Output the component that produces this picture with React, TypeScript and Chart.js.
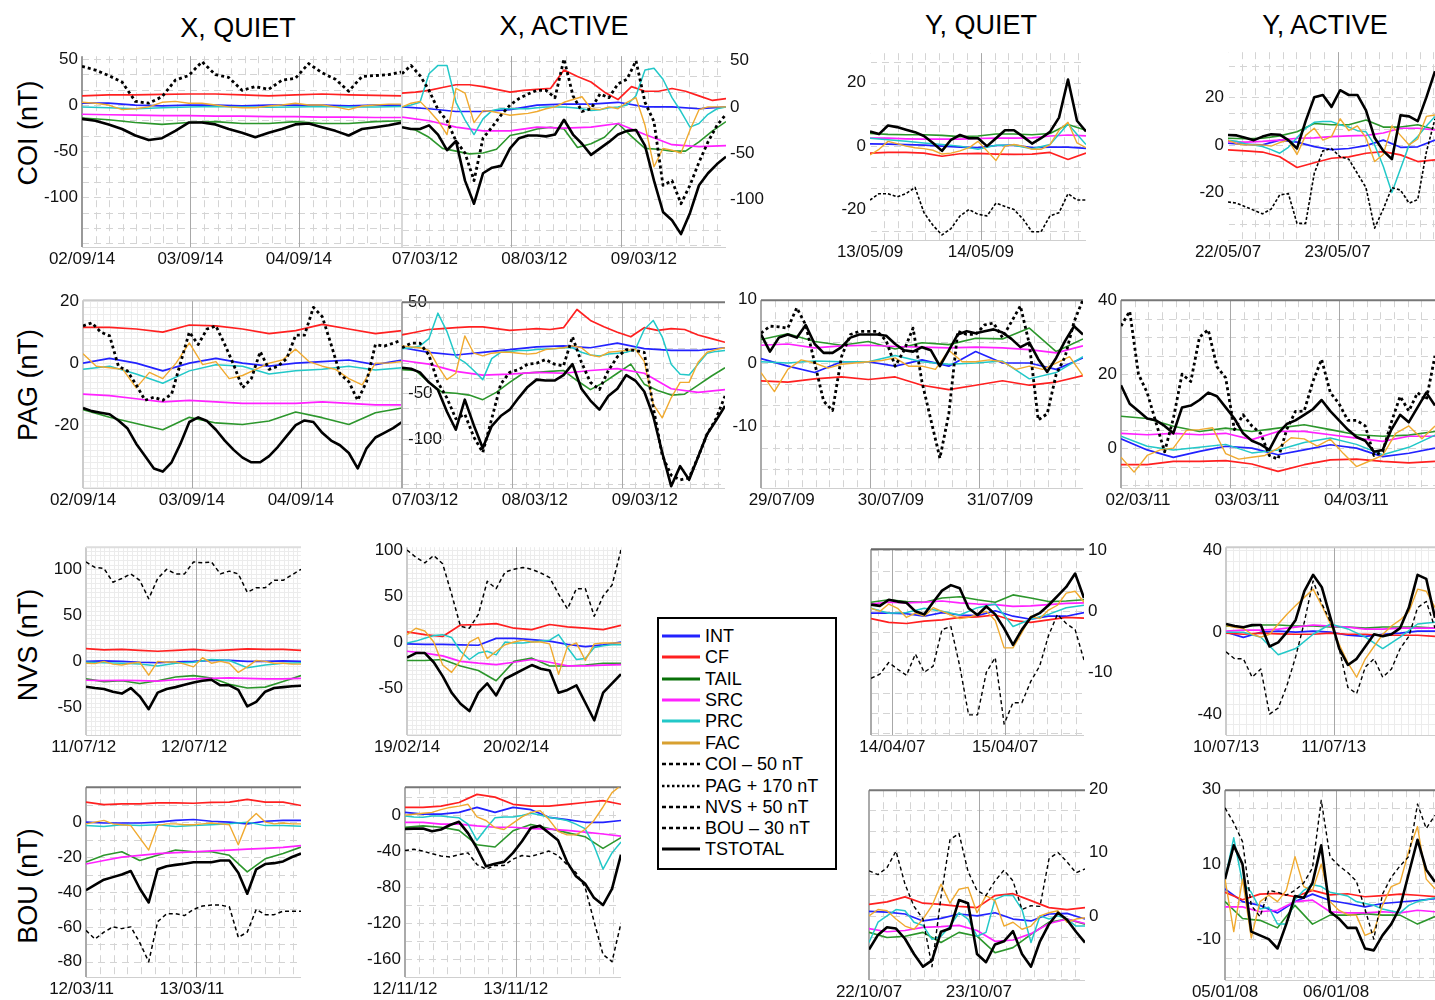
import React, { useEffect, useRef } from "react";
import { Chart, registerables } from "chart.js";
Chart.register(...registerables);

const FONT = '"Liberation Sans", Arial, Helvetica, sans-serif';
const C = { int: "#2222ff", cf: "#ff2020", tail: "#2c962c", src: "#ff22ff", prc: "#22c8c8", fac: "#f0aa30" };

// ---------- P1 COI X quiet ----------
const p1_obs = [42, 38, 32, 25, 4, 2, 9, 27, 32, 47, 33, 30, 16, 20, 17, 27, 29, 45, 35, 28, 15, 31, 32, 33, 36];
const p1_tot = [-15, -17, -21, -26, -33, -38, -36, -28, -19, -19, -21, -26, -30, -35, -30, -26, -21, -20, -24, -28, -33, -26, -24, -22, -19];
const p1_tail = [-14, -16, -19, -21, -19, -18, -20, -20, -18, -20, -20, -18, -17];
const p1_src = [-10, -10.5, -11, -11.5, -11.5, -12, -12, -12.5, -12.5, -13, -13, -13.5, -13.5];
const p1_cf = [10, 11, 11, 11.5, 12, 12, 11, 10, 11, 12, 11, 10.5, 10];
const p1_int = [2, 2, 0, -1, 0, 0, -1, 0, 0, 0, -1, 0, 0];
const p1_prc = [-2, -3, -4, -3, -2, -1.5, -2, -2.5, -2, -1.5, -2, -2, -1.5];
const p1_fac = [3, 2, 0, -5, -4, -2, 3, 4, 2, 2, 0, -2, -3, -3, -1, 0, 2, 0, 0, -2, -5, -1, 0, 1, 1];
const p1_days = ["02/09/14", "03/09/14", "04/09/14"];

// ---------- P2 COI X active ----------
const p2_obs = [36, 45, 34, 18, -3, -15, -37, -50, -80, -34, -22, -9, 2, 9, 14, 18, 18, 10, 52, 12, -5, -2, 14, 10, 25, 30, 50, 5, -16, -85, -80, -105, -85, -60, -38, -20, -8];
const p2_tot = [-22, -24, -24, -20, -30, -47, -37, -80, -105, -72, -66, -64, -45, -34, -31, -31, -32, -30, -14, -30, -40, -52, -45, -38, -30, -26, -25, -42, -80, -114, -123, -138, -115, -85, -72, -62, -54];
const p2_cf = [15, 16, 18, 21, 24, 24, 22, 19, 16, 18, 19, 20, 40, 33, 27, 16, 8, 22, 17, 17, 20, 17, 12, 7, 9];
const p2_int = [0, -2, -5, -5, -3, 2, 3, 3, 5, 0, 0, -2, 0];
const p2_tail = [-22, -25, -33, -45, -48, -51, -50, -46, -31, -28, -24, -22, -24, -44, -40, -33, -18, -32, -45, -46, -48, -48, -38, -26, -16];
const p2_src = [-11, -15, -22, -26, -26, -22, -23, -22, -18, -30, -41, -43, -42];
const p2_prc = [0, 2, 5, 36, 45, 45, 5, -14, -30, -13, -4, -2, -2, -2, -2, -1, 0, 0, 0, -1, -2, -4, -3, -1, 0, 2, 12, 40, 42, 30, 10, -5, -22, -18, -8, -2, 0];
const p2_fac = [0, 4, 6, -4, -15, -30, 20, 15, -17, -4, -5, -7, -9, -8, -7, -5, -2, 0, 5, 8, 11, -2, -3, 0, -2, 5, 10, -20, -65, -45, -47, -50, -25, -3, 0, 0, 0];
const p2_days = ["07/03/12", "08/03/12", "09/03/12"];

// ---------- P3 COI Y quiet ----------
const p3_obs = [-17, -15, -15, -16, -15, -13, -21, -25, -28, -26, -22, -20, -21.5, -22, -18, -19, -20, -23, -27, -27, -22, -21, -15, -17, -17];
const p3_tot = [4.6, 3.8, 6.5, 6, 5.2, 4.4, 3.2, 1, -1.5, 2, 3.5, 2.5, 2.5, 0, 2.5, 5, 5, 3, 0.8, 2.5, 4.5, 9, 21, 8, 4.6];
const p3_tail = [4, 3.7, 3.6, 3.6, 3.4, 3.0, 3.2, 3.8, 3.8, 3.6, 4, 6.8, 5];
const p3_src = [2.5, 2.5, 2.3, 2.2, 2.2, 2.2, 2.4, 2.5, 2.5, 2.6, 3.2, 3.5, 3.2];
const p3_prc = [2.5, 2, 1.5, 1, 0.5, 0, -1, 0.3, 0.3, -0.8, 0.5, 7, 0.5];
const p3_int = [0.7, 0.6, 0.5, 0.3, 0, -0.3, -0.5, 0.2, 0.3, -0.5, -0.3, -0.3, -0.7];
const p3_cf = [-2.2, -2, -2, -2.2, -3.2, -2.4, -2.3, -2.5, -2.6, -2.5, -2, -4.2, -2.2];
const p3_fac = [-2.8, -1, 1.5, 0.8, 0, -0.5, -0.8, -1.3, -2.5, -2.2, -1.5, -0.5, 1.5, -1.5, -4.5, 0, 0.5, 0, -1, -1, 0.5, 5, 7.5, 1, -0.5];
const p3_days = ["13/05/09", "14/05/09"];

// ---------- P4 COI Y active ----------
const p4_obs = [-24, -24.5, -26, -27.5, -29, -27, -21, -20.5, -33, -33, -12, -2.5, -1.5, -5, -6, -12, -18, -35, -27, -18, -19, -24.5, -23, -3, 11];
const p4_tot = [4.2, 4, 3, 2, 3.5, 4.5, 4.3, 2, -1.5, 10, 20, 21, 16, 23, 21, 21, 14.5, 3, -2.5, -6, 12.5, 12, 10, 20, 31];
const p4_tail = [2.8, 2.6, 2.8, 3.8, 5.5, 9, 8.5, 8.5, 10.5, 7.5, 7.5, 8.5, 6.5];
const p4_src = [1.4, 1.2, 1.5, 2, 2.8, 3, 3.5, 3.8, 4, 5, 7, 7, 6.3];
const p4_prc = [2, 1.5, 0.5, 0, -0.7, -2, -3.5, -1, 3, 7, 9.5, 9.8, 9.8, 8.5, 7.5, 6, 5.5, 0, -9, -20, -10, 0, 3.5, 8, 12];
const p4_int = [0.7, 0.2, 0, 2, 1.2, -0.7, -2, -1.5, -0.3, 2, -1, -0.8, 2];
const p4_cf = [-2.1, -2.5, -3, -5, -9.5, -7.5, -5.6, -5, -3.5, -2.8, -4.2, -7, -6.3];
const p4_fac = [2, 0.5, 0, 0, 0, -0.5, 1, 2, -4, 4, 7, 2, 3.5, 11, 6, 8, 3, -7, -4, 8, 4, 0, 2.5, 12, 12.6];
const p4_days = ["22/05/07", "23/05/07"];

// ---------- P5 PAG X quiet ----------
const p5_obs = [12, 13, 10, 8.8, -1, -2.5, -7, -12, -11, -12, -10, 0, 10, 6, 11, 12, 6, -0.5, -8, -5, 3.7, -2, -1, 1.5, 9, 9, 18, 15, 6, -3.5, -6, -12, -6, 6, 5.5, 6.4, 7.5];
const p5_tot = [-14.5, -15.5, -16, -16.5, -18.5, -21, -26, -30, -34, -35, -32, -26, -19, -17.5, -18.7, -21.5, -25, -28, -30.5, -32, -32, -30, -27, -23.5, -20, -18.5, -19, -22.5, -25, -26.5, -29, -34, -27.5, -24, -22.5, -21, -19];
const p5_tail = [-15, -17.5, -19.5, -21.5, -17.5, -19.3, -19.8, -18.7, -15.8, -17.6, -19.8, -16, -14.5];
const p5_src = [-10, -10.5, -11.5, -12.5, -12, -12.5, -13, -13, -13, -12.5, -13, -13.5, -13.5];
const p5_cf = [11.5, 11.5, 11, 10, 12.3, 12, 11, 9.5, 10.5, 12.5, 11, 9.5, 10.5];
const p5_int = [0, 1.5, 0, -2.5, 0, 1.5, 0, -1, 0, 0.5, 1, -0.5, 1];
const p5_prc = [-2, -1, -3.5, -6.5, -2.5, -0.5, -1, -3.5, -2.5, -2, -1, -2.2, -1.5];
const p5_fac = [3, -1, -1.5, -2, -8, -3, -5, 0, 6.5, -0.5, 0.5, -5, -4, -2, 0, 1, 4.5, 0.5, -1, -2, -5, -7, 0, 0, 0.5];
const p5_days = ["02/09/14", "03/09/14", "04/09/14"];

// ---------- P6 PAG X active ----------
const p6_obs = [0, 5, 5, -8, -38, -55, -78, -73, -98, -115, -78, -40, -27, -24, -18, -17, -13, -18, -20, 12, -16, -38, -46, -25, -10, -2, -3, -5, -65, -118, -140, -145, -143, -120, -95, -78, -53];
const p6_tot = [-22, -23, -27, -38, -46, -70, -90, -57, -85, -110, -86, -75, -68, -55, -43, -35, -36, -36, -30, -18, -45, -58, -68, -53, -45, -30, -36, -48, -75, -115, -152, -130, -145, -120, -95, -80, -64];
const p6_cf = [14, 17, 20, 21, 22, 23, 23, 21, 19, 20, 21, 20, 22, 42, 30, 23, 17, 12, 22, 19, 21, 20, 14, 10, 6];
const p6_int = [0, -5, -8, -5, -2, 1, 2, 0, 5, -1, -3, -3, 0];
const p6_tail = [-24, -25, -38, -49, -50, -52, -57, -49, -38, -28, -27, -26, -25, -36, -46, -38, -28, -18, -40, -47, -52, -51, -41, -31, -22];
const p6_src = [-14, -18, -26, -30, -29, -27, -28, -25, -23, -28, -45, -49, -46];
const p6_prc = [-1, 0, 2, 10, 38, 18, -10, -16, -25, -35, -12, -5, -4, -3, -3, -2, -1.5, -1, 0, 0, -5, -8, -9, -7, -6, -5, -2, 20, 30, 12, -18, -29, -30, -18, -6, -4, -3];
const p6_fac = [2, 1, 0, -3, -20, -35, -28, 13, -6, -9, -6, -5, -5, -6, -7, -6, -2, -1, 0, 2, 0, -8, -10, -5, -4, -3, -1.5, -15, -62, -77, -55, -38, -38, -16, -5, -2, 0];
const p6_days = ["07/03/12", "08/03/12", "09/03/12"];

// ---------- P7 PAG Y quiet ----------
const p7_obs = [4.7, 5.8, 5.7, 5.5, 8.7, 6, 0, -6, -7.5, 1, 4.5, 5, 5, 5, 3.5, -0.5, 2, 5.5, -3, -9, -15, -8, 5, 4.5, 4.5, 6, 6.3, 4, 6.5, 9, 3, -9, -8, -1.8, 1, 6.5, 10];
const p7_tot = [4.5, 1.8, 4, 4.5, 4, 6, 3, 1.6, 1.6, 2.5, 4, 4.5, 4.5, 4.5, 4.3, 3, 2, 1.8, 2.5, 2, -0.5, 2, 4.5, 5, 4.7, 5, 5.3, 4.8, 3.8, 2.5, 3.2, 0.6, -1.4, 0.8, 3.5, 5.8, 4.5];
const p7_tail = [3.7, 4.6, 3.4, 2.8, 3.4, 2.2, 3.2, 2.9, 3.9, 3.8, 5.5, 1.8, 3.8];
const p7_src = [2.8, 3, 2.4, 2.7, 2.8, 2.6, 2.5, 2.4, 2.5, 2.4, 2.1, 1.6, 2.7];
const p7_cf = [-2.8, -3, -2.5, -2.2, -2.6, -2.2, -3.5, -4.2, -3.5, -2.8, -3.5, -3, -2];
const p7_int = [0.7, -0.5, -1.5, 0.2, 0.2, -0.5, 0.5, -0.5, 1.8, 0, 0, -1, 0.8];
const p7_prc = [0.2, 0, 0.3, 0.2, 0.2, 1.2, 0.2, -0.2, 0, 0.3, -2.5, -1.5, 1];
const p7_fac = [-1.5, -4.5, -1, 0.5, 0, -0.8, -0.2, 0, 0.2, 0.4, 0.8, -0.5, -0.5, -1, 2, 0.2, 0.2, 0.5, 0.2, -1, -0.5, -1, 0, 1, -2];
const p7_days = ["29/07/09", "30/07/09", "31/07/09"];

// ---------- P8 PAG Y active ----------
const p8_obs = [33, 37, 20, 15, 7, -1, 8, 20, 18, 30, 32, 22, 19, 5, 9, 6, 4, -2, -3, 5, 9.9, 10, 18, 24, 15, 12, 7.5, 7.5, 6, -2, -1, 7, 14, 10, 15, 13, 25];
const p8_tot = [17, 12, 10, 8, 7.5, 6, 4, 11, 11.5, 13, 15, 14, 11, 8, 4, 2, 1, -0.5, 4, 6.5, 7.5, 9, 10.5, 13, 10, 7.5, 5, 3, 2, -1, -0.5, 5, 9, 7, 11, 15, 11.5];
const p8_tail = [8.6, 8, 5.9, 4.5, 5.4, 4.5, 5.4, 6.3, 5, 3.6, 3.2, 3.5, 4.5];
const p8_src = [4, 3.6, 4, 3.6, 4, 2.3, 4.5, 4.5, 3.6, 2.7, 1.8, 3.2, 3.2];
const p8_prc = [3.2, 0.5, -0.5, 0.2, 1, -1.3, -0.5, 1.5, 2.7, 1, -1.8, 0.2, 3.5];
const p8_int = [2.5, -0.5, -2.5, -0.9, 0.5, 0, -1.8, -0.5, 0.9, 0, -2.3, -1.4, 0];
const p8_cf = [-4.5, -4.5, -3.6, -3.6, -3.4, -4.3, -6.3, -4.5, -3.2, -3.0, -3.6, -4, -3.6];
const p8_fac = [-2.5, -6.5, -2, -0.5, 0, 4.8, 5, 5.5, -1.5, -3, -2.5, -2, 0, 2.8, 2.5, 0.5, 2.4, -1.5, -5, -3.5, -2, 4, 6, 2.5, 6];
const p8_days = ["02/03/11", "03/03/11", "04/03/11"];

// ---------- P9 NVS X quiet ----------
const p9_obs = [108, 102, 101, 86, 90, 95, 88, 68, 90, 100, 95, 95, 108, 107, 108, 95, 98, 95, 75, 80, 80, 88, 88, 94, 100];
const p9_tot = [-27.6, -29, -30, -33, -35, -29, -38, -52, -34, -30, -28, -25.5, -23, -21, -20, -26, -26, -31, -49, -44, -33, -29, -28, -27, -26.5];
const p9_cf = [13.8, 12.5, 13, 12, 11, 12, 13, 11.5, 12.5, 13.5, 13, 13, 12];
const p9_int = [0, 0.5, 0, -1, -1.5, -0.5, 0, 1, 1, 0, 0, 0.5, 0];
const p9_prc = [-1, -1.5, -2, -3, -5, -2, -1, 2, 1, -7, -4, -2, -1.5];
const p9_tail = [-19, -22, -21, -24, -21, -17, -15.5, -18, -25, -29, -28, -22, -15.5];
const p9_src = [-20.5, -21, -20.5, -21, -21.5, -20, -19, -18.5, -18, -18.5, -19, -19, -18.5];
const p9_fac = [-2, -2.5, 0, -3, -4, -2, -1, -15, 0, -1, -0.5, -3, -6, 4, -2, 0, -2, -12, -6, 1, 0, -2, -2, -3, -3];
const p9_days = ["11/07/12", "12/07/12"];

// ---------- P10 NVS X active ----------
const p10_obs = [100, 92, 86, 94, 85, 52, 17, 15, 30, 66, 58, 76, 79, 81, 79, 75, 70, 52, 36, 58, 58, 28, 50, 62, 100];
const p10_tot = [-17, -12, -12, -22, -37, -55, -67, -75, -55, -45, -58, -40, -35, -30, -25, -29, -31, -55, -52, -47, -66, -85, -55, -45, -35];
const p10_cf = [11, 8, 6, 18.5, 19, 20, 15, 13.5, 19, 16.5, 15, 13.5, 18];
const p10_int = [-2, -2.5, -2.5, -3, -3.5, 4, 4, 2.5, 1, -2.5, -5, -3, 0];
const p10_prc = [-1, 1, 4, 7, 8, 5, -10, -19, -12, -10, -14, 0, -1, -1, 0, 1, 2, 8, -6, -19, -18, -6, -4, -3, -3];
const p10_tail = [-20, -20, -19, -26, -31, -42, -21, -17.5, -26, -26, -25, -23, -23];
const p10_src = [-10, -12, -15, -21, -23, -24.5, -22, -19, -22, -26, -26, -25, -24.5];
const p10_fac = [8, 15, 12, 0, -25, -33, -20, 0, 5, -18, -10, -3, 0, 2, 0, 0, -2, -35, -5, -1, -20, -2, -1, -1, -1];
const p10_days = ["19/02/14", "20/02/14"];

// ---------- P11 NVS Y quiet ----------
const p11_obs = [-11, -10.3, -8.4, -9.5, -10.5, -7, -10, -9, -3, -2.5, -9, -17, -17, -10, -7.6, -18.5, -15, -15, -11.5, -9, -4, -0.5, -2, -3, -8];
const p11_tot = [1.1, 0.9, 1.9, 1.6, 1.4, 0, -0.5, 1.5, 3.4, 4.3, 3.8, 0.5, -0.6, 0.8, -0.5, -2.8, -5.5, -3, -1, -0.3, 1, 2.5, 4, 6.2, 2.2];
const p11_tail = [1.5, 1.9, 1.6, 1.5, 2.2, 2.4, 1.9, 1.5, 2.7, 2.2, 1.6, 1.7, 1.9];
const p11_src = [1.2, 1.5, 1.4, 1.5, 1.7, 1.4, 1.2, 1.1, 0.8, 0.9, 1.1, 1.3, 1.4];
const p11_int = [-0.3, -0.3, -0.4, -0.8, -0.2, -0.6, -0.7, 0.1, -0.8, -1.3, -0.8, -0.8, -0.2];
const p11_cf = [-1.2, -1.8, -2, -1.6, -1.4, -1.0, -0.9, -0.6, -1.5, -1.8, -1.4, -1, -1.1];
const p11_prc = [0.5, -0.3, -0.2, 0.5, 0, -0.6, 0.6, 1.2, -2.5, -1.3, -0.5, 0.6, 1];
const p11_fac = [0.5, 0, 1.2, 0.5, -1, -0.3, -0.8, 0.6, 0, -0.6, -1.2, -1, -0.5, 0, -1.5, -6, -6, -3.5, -0.8, -1.2, 0.2, 1, 3, 3.3, 1.5];
const p11_days = ["14/04/07", "15/04/07"];

// ---------- P12 NVS Y active ----------
const p12_obs = [-9.6, -13, -13, -22, -18, -40, -37, -26, -12, 5, 25, 14, 5, -8, -27, -30, -17, -13, -22, -18, -8, -2, 12, 15, 2];
const p12_tot = [4, 3, 2.4, 3.5, 3.5, -7, -5, 0, 6, 20, 28, 22, 7, -8, -16, -13, -7, -1, -2, -1, 2, 12, 28, 26, 7];
const p12_fac = [3.2, 2.4, 1.8, -1, -2.4, -1, 4, 8.8, 13, 17, 21, 13, 4, -6, -15, -22, -13, -7, -1, 3, 6, 10, 21, 20, 12];
const p12_prc = [0, 0, -2.5, -11, -8, -1, 4, 1.6, -2.4, -8, -2.4, 4, 4.8];
const p12_int = [0, -2.5, 0, 0.5, 0, 0.5, 0, -1.5, -2, -1, -0.5, 0.5, 0.5];
const p12_cf = [-0.5, -1, -0.5, -0.8, -1, -1, -0.5, -1, -1, -1.5, -1.5, -1.5, -2];
const p12_src = [0.5, 1, 1, 1.5, 2.5, 3.5, 3, 2.5, 1.5, 1.5, 2, 2, 2];
const p12_tail = [3, 2.5, 3.5, 3.5, 3, 3, 2.5, 2.5, 2, 2.5, 2.5, 2.5, 2];
const p12_days = ["10/07/13", "11/07/13"];

// ---------- P13 BOU X quiet ----------
const p13_obs = [-62, -67, -63, -60, -61, -60, -69, -80, -57, -52.5, -52.5, -53.5, -50, -48, -47.5, -47.5, -48.5, -66, -63, -50, -53, -53, -51, -51, -51];
const p13_tot = [-39, -36, -33, -31.5, -30, -28, -38, -46, -27, -25.3, -24.5, -23.8, -23, -23, -23, -22, -22, -29, -41, -27, -24, -23.5, -22.5, -20, -18];
const p13_cf = [11.5, 10, 10.5, 10.5, 11, 11, 10.8, 11.3, 11.5, 13, 11.5, 11.5, 9.5];
const p13_int = [0, -0.5, -0.5, -0.5, 0, 1, 1.5, 0.5, 0, -1, 0.5, 1, 1];
const p13_prc = [-2, -2.5, -1.5, -2, -1.5, -2.5, -2, -1.5, -1, 0, -2, -2, -2.3];
const p13_tail = [-22.9, -19, -17, -22, -19, -16, -17, -17, -19, -28.5, -21, -18, -14.3];
const p13_src = [-24, -22, -20, -19, -18, -17.5, -17, -16.5, -16, -15.5, -15, -14.5, -13.5];
const p13_fac = [-1, 0, 1, -1, -1.5, -2, -9, -16, -2, -1, -1, -1.5, -1.5, -1, -0.5, -1, -1.5, -13, 0, 5, 0, -1, -0.5, -1, -1];
const p13_days = ["12/03/11", "13/03/11"];

// ---------- P14 BOU X active ----------
const p14_obs = [-39.5, -38, -40, -43, -45.5, -46.5, -44, -42, -55, -60, -56, -56, -49, -45, -46, -43, -40, -45, -55, -64, -80, -118, -155, -163, -120];
const p14_tot = [-15.5, -15, -15, -18, -16, -11, -7.5, -20, -37, -57, -54, -52, -42, -29, -14, -12, -20, -28, -52, -68, -76, -92, -100, -82, -44];
const p14_cf = [8.5, 8.5, 10, 14, 23, 20, 12, 10, 10, 12, 14, 16, 12];
const p14_int = [3, 1, 1, 3, 8.5, 3, 8.5, 6, -2.5, -5, -8, -8, -6];
const p14_src = [-8, -8, -10, -10, -12, -13.5, -13.5, -15, -15.5, -17, -19, -21, -23.5];
const p14_prc = [-1, -2, -2.5, -1, -1, -2, -3, -10, -28, -15, -3, -2, -2, -0.5, 2, 0, -2.5, -4, -6, -10, -15, -34, -60, -42, -30];
const p14_tail = [-13.7, -12, -13.5, -17, -33, -35.5, -17.5, -10.5, -15, -19.5, -24, -37, -25];
const p14_fac = [0, 1, 2, 3, 6, 8.5, 10, 12, -2, -6, -14, -16, -9, -2, 3, 5, -5, -18, -22, -22, -16, -6, 9, 25, 33];
const p14_days = ["12/11/12", "13/11/12"];

// ---------- P15 BOU Y quiet ----------
const p15_obs = [7.1, 6.5, 7.6, 10.2, 5, 1.5, -0.5, -8, 3, 12, 13, 7, 4, 3.2, 5.5, 7.2, 5.5, 1, 1.6, 1.5, 9, 10, 8.5, 6.8, 7.4];
const p15_tot = [-5.3, -3, -1.8, -2, -3.6, -6, -8, -7, -2.5, -2, 2.5, 2, -6, -7.3, -4.5, -4, -2.4, -6, -8, -4, -1.3, 0.5, -0.6, -2.5, -4.2];
const p15_cf = [1.8, 2.2, 3, 2, 1.8, 1.5, 1.3, 3.2, 3.5, 2.4, 1.3, 1, 1.3];
const p15_int = [0.7, 0.6, 0.3, -0.8, -0.4, 0.3, 0, 0.5, -0.5, -0.8, 0.3, 0.4, -0.5];
const p15_src = [-2, -2.5, -2.3, -1.8, -1.7, -1.5, -2.3, -4, -3.8, -2.8, -1.2, -0.5, -1.2];
const p15_tail = [-2.6, -3.4, -3.2, -2.6, -4.2, -2.6, -3.2, -5.8, -5, -2.9, -1, -0.5, -1.3];
const p15_prc = [-4.2, -1, 0, 1, 0.8, -1, -1.5, -3.7, -3.2, -1.6, 0.5, -0.5, -3.2, -2.6, 2.6, 3.2, 3.2, 1, -4.2, 0, -0.5, 0, -0.5, -1.6, -1.6];
const p15_fac = [0, 1, 0.8, -0.5, -1.6, -2.1, -0.5, 1.6, 5, 2, 4.2, 4.5, 0.5, 3.2, 2.4, -1.6, -1, -2.1, -1.6, 0, 0.5, 0.8, -1, -0.5, -0.3];
const p15_days = ["22/10/07", "23/10/07"];

// ---------- P16 BOU Y active ----------
const p16_obs = [25, 21, 16, -1, -4, 3, 2.5, 1.7, 3, 5, 9, 27, 12, 9.6, 7.8, 5.5, -2, -10, 2, 6.5, 9.5, 12, 26, 19.5, 23];
const p16_tot = [6, 15, 10, -8, -9, -10, -12.5, -6, 1.5, 1, 5, 15, -2.7, -4.5, -7, -7, -12.5, -13, -9, -6, -1.5, 7.5, 16.5, 8.5, 5.2];
const p16_fac = [6, -8, 6, -9.7, 0, 1.7, 0, 3, 12, 4, 3, 10, 0, -2.3, -3.5, -3.6, -9, -8, -1, 4, 5, 13.5, 20, 6, 3.4];
const p16_prc = [6, 17, 5, 2.5, -2, -1.5, -6, -6, 0.5, 3, 4.5, 4, 2.5, 2, 1.5, 0, -0.5, -1, -2, -2.5, -3, -1, 0, 0.5, 1];
const p16_cf = [2.5, 0.5, 2, 2.2, 1.3, 3, 1.8, 2.1, 1.3, 1.6, 2, 1.7, 1.3];
const p16_int = [3.4, 0, -1, -3, 0, 2, 0.3, -0.5, -1.4, -0.5, -0.1, 0.3, 0.8];
const p16_src = [-1.4, -1.4, -2.7, -2.3, 0, 0.4, -2.7, -3, -3, -2.7, -3, -2.3, -2.7];
const p16_tail = [0, -4.5, -5, -7, -1, -6, -3.6, -3.6, -3.2, -3.6, -3.6, -6, -4];
const p16_days = ["05/01/08", "06/01/08"];

const TITLES = ["X, QUIET", "X, ACTIVE", "Y, QUIET", "Y, ACTIVE"];
const ROW_LABELS = ["COI (nT)", "PAG (nT)", "NVS (nT)", "BOU (nT)"];
const LEGEND_LABELS = ["INT", "CF", "TAIL", "SRC", "PRC", "FAC", "COI \u2013 50 nT", "PAG + 170 nT", "NVS + 50 nT", "BOU \u2013 30 nT", "TSTOTAL"];

type Side = "left" | "right" | "inside";
type Cfg = {
  id: string; L: number; T: number; R: number; B: number;
  xMin: number; xMax: number; yMin: number; yMax: number;
  yTicks: number[]; ySide: Side; days: string[]; shift: number;
  gy: number; gx: number; fine: boolean; top: string | null; leftAxis: string;
  obsDash: number[]; obsW: number;
  s: { int: number[]; cf: number[]; tail: number[]; src: number[]; prc: number[]; fac: number[]; obs: number[]; tot: number[] };
};

const DOT = [3, 3];
const DASH = [4, 3];

const PANELS: Cfg[] = [
  { id: "p1", L: 82, T: 56, R: 402, B: 247, xMin: 0, xMax: 2.95, yMin: -154, yMax: 53, yTicks: [50, 0, -50, -100], ySide: "left", days: p1_days, shift: 0, gy: 50 / 3, gx: 1 / 8, fine: false, top: null, leftAxis: "#999", obsDash: DOT, obsW: 2.8,
    s: { int: p1_int, cf: p1_cf, tail: p1_tail, src: p1_src, prc: p1_prc, fac: p1_fac, obs: p1_obs, tot: p1_tot } },
  { id: "p2", L: 402, T: 56, R: 726, B: 247, xMin: 0, xMax: 2.96, yMin: -152, yMax: 55, yTicks: [50, 0, -50, -100], ySide: "right", days: p2_days, shift: 0.21, gy: 50 / 3, gx: 1 / 8, fine: false, top: null, leftAxis: "#d8d8d8", obsDash: DOT, obsW: 2.8,
    s: { int: p2_int, cf: p2_cf, tail: p2_tail, src: p2_src, prc: p2_prc, fac: p2_fac, obs: p2_obs, tot: p2_tot } },
  { id: "p3", L: 870, T: 53, R: 1086, B: 240, xMin: 0, xMax: 1.95, yMin: -29.6, yMax: 29.3, yTicks: [20, 0, -20], ySide: "left", days: p3_days, shift: 0, gy: 20 / 3, gx: 1 / 8, fine: false, top: null, leftAxis: "#ffffff", obsDash: [3, 2], obsW: 1.6,
    s: { int: p3_int, cf: p3_cf, tail: p3_tail, src: p3_src, prc: p3_prc, fac: p3_fac, obs: p3_obs, tot: p3_tot } },
  { id: "p4", L: 1228, T: 52, R: 1435, B: 240, xMin: 0, xMax: 1.89, yMin: -40, yMax: 39, yTicks: [20, 0, -20], ySide: "left", days: p4_days, shift: 0, gy: 20 / 3, gx: 1 / 8, fine: false, top: null, leftAxis: "#ffffff", obsDash: [3, 2], obsW: 1.6,
    s: { int: p4_int, cf: p4_cf, tail: p4_tail, src: p4_src, prc: p4_prc, fac: p4_fac, obs: p4_obs, tot: p4_tot } },
  { id: "p5", L: 83, T: 300, R: 402, B: 488, xMin: 0, xMax: 2.93, yMin: -40.3, yMax: 20.3, yTicks: [20, 0, -20], ySide: "left", days: p5_days, shift: 0, gy: 2, gx: 1 / 16, fine: true, top: "#cccccc", leftAxis: "#cccccc", obsDash: DOT, obsW: 2.8,
    s: { int: p5_int, cf: p5_cf, tail: p5_tail, src: p5_src, prc: p5_prc, fac: p5_fac, obs: p5_obs, tot: p5_tot } },
  { id: "p6", L: 402, T: 300, R: 725, B: 488, xMin: 0, xMax: 2.94, yMin: -154, yMax: 50, yTicks: [50, -50, -100], ySide: "inside", days: p6_days, shift: 0.21, gy: 50 / 3, gx: 1 / 8, fine: false, top: "#777777", leftAxis: "#aaaaaa", obsDash: DOT, obsW: 2.8,
    s: { int: p6_int, cf: p6_cf, tail: p6_tail, src: p6_src, prc: p6_prc, fac: p6_fac, obs: p6_obs, tot: p6_tot } },
  { id: "p7", L: 761, T: 300, R: 1083, B: 488, xMin: 0, xMax: 2.95, yMin: -19.7, yMax: 9.9, yTicks: [10, 0, -10], ySide: "left", days: p7_days, shift: 0.19, gy: 10 / 3, gx: 1 / 8, fine: false, top: "#777777", leftAxis: "#aaaaaa", obsDash: DOT, obsW: 2.8,
    s: { int: p7_int, cf: p7_cf, tail: p7_tail, src: p7_src, prc: p7_prc, fac: p7_fac, obs: p7_obs, tot: p7_tot } },
  { id: "p8", L: 1121, T: 300, R: 1435, B: 488, xMin: 0, xMax: 2.875, yMin: -10.8, yMax: 40, yTicks: [40, 20, 0], ySide: "left", days: p8_days, shift: 0.155, gy: 5, gx: 1 / 8, fine: false, top: "#777777", leftAxis: "#aaaaaa", obsDash: DOT, obsW: 2.8,
    s: { int: p8_int, cf: p8_cf, tail: p8_tail, src: p8_src, prc: p8_prc, fac: p8_fac, obs: p8_obs, tot: p8_tot } },
  { id: "p9", L: 86, T: 547, R: 301, B: 735, xMin: 0, xMax: 1.95, yMin: -80, yMax: 124, yTicks: [100, 50, 0, -50], ySide: "left", days: p9_days, shift: -0.02, gy: 5, gx: 1 / 24, fine: true, top: "#dddddd", leftAxis: "#cccccc", obsDash: DASH, obsW: 1.5,
    s: { int: p9_int, cf: p9_cf, tail: p9_tail, src: p9_src, prc: p9_prc, fac: p9_fac, obs: p9_obs, tot: p9_tot } },
  { id: "p10", L: 407, T: 547, R: 621, B: 735, xMin: 0, xMax: 1.96, yMin: -101, yMax: 103, yTicks: [100, 50, 0, -50], ySide: "left", days: p10_days, shift: 0, gy: 5, gx: 1 / 24, fine: true, top: null, leftAxis: "#cccccc", obsDash: DASH, obsW: 1.5,
    s: { int: p10_int, cf: p10_cf, tail: p10_tail, src: p10_src, prc: p10_prc, fac: p10_fac, obs: p10_obs, tot: p10_tot } },
  { id: "p11", L: 871, T: 549, R: 1084, B: 735, xMin: -0.19, xMax: 1.7, yMin: -20.3, yMax: 10.2, yTicks: [10, 0, -10], ySide: "right", days: p11_days, shift: 0, gy: 10 / 3, gx: 1 / 8, fine: false, top: "#666666", leftAxis: "#aaaaaa", obsDash: DASH, obsW: 1.4,
    s: { int: p11_int, cf: p11_cf, tail: p11_tail, src: p11_src, prc: p11_prc, fac: p11_fac, obs: p11_obs, tot: p11_tot } },
  { id: "p12", L: 1226, T: 547, R: 1435, B: 735, xMin: 0, xMax: 1.94, yMin: -50.2, yMax: 41.5, yTicks: [40, 0, -40], ySide: "left", days: p12_days, shift: 0, gy: 5, gx: 1 / 16, fine: true, top: "#cccccc", leftAxis: "#cccccc", obsDash: DASH, obsW: 1.4,
    s: { int: p12_int, cf: p12_cf, tail: p12_tail, src: p12_src, prc: p12_prc, fac: p12_fac, obs: p12_obs, tot: p12_tot } },
  { id: "p13", L: 86, T: 787, R: 301, B: 977, xMin: 0, xMax: 1.95, yMin: -88.7, yMax: 20, yTicks: [0, -20, -40, -60, -80], ySide: "left", days: p13_days, shift: -0.04, gy: 10, gx: 1 / 8, fine: false, top: "#777777", leftAxis: "#aaaaaa", obsDash: DASH, obsW: 1.5,
    s: { int: p13_int, cf: p13_cf, tail: p13_tail, src: p13_src, prc: p13_prc, fac: p13_fac, obs: p13_obs, tot: p13_tot } },
  { id: "p14", L: 405, T: 787, R: 621, B: 977, xMin: 0, xMax: 1.95, yMin: -180, yMax: 31, yTicks: [0, -40, -80, -120, -160], ySide: "left", days: p14_days, shift: 0, gy: 20, gx: 1 / 8, fine: false, top: "#777777", leftAxis: "#aaaaaa", obsDash: DASH, obsW: 1.5,
    s: { int: p14_int, cf: p14_cf, tail: p14_tail, src: p14_src, prc: p14_prc, fac: p14_fac, obs: p14_obs, tot: p14_tot } },
  { id: "p15", L: 869, T: 790, R: 1085, B: 980, xMin: 0, xMax: 1.965, yMin: -10.1, yMax: 19.8, yTicks: [20, 10, 0], ySide: "right", days: p15_days, shift: 0, gy: 10 / 3, gx: 1 / 8, fine: false, top: "#777777", leftAxis: "#aaaaaa", obsDash: DASH, obsW: 1.4,
    s: { int: p15_int, cf: p15_cf, tail: p15_tail, src: p15_src, prc: p15_prc, fac: p15_fac, obs: p15_obs, tot: p15_tot } },
  { id: "p16", L: 1225, T: 790, R: 1435, B: 980, xMin: 0, xMax: 1.89, yMin: -20.9, yMax: 29.7, yTicks: [30, 10, -10], ySide: "left", days: p16_days, shift: 0, gy: 5, gx: 1 / 8, fine: false, top: "#777777", leftAxis: "#aaaaaa", obsDash: DASH, obsW: 1.4,
    s: { int: p16_int, cf: p16_cf, tail: p16_tail, src: p16_src, prc: p16_prc, fac: p16_fac, obs: p16_obs, tot: p16_tot } },
];

const PAD_L = 54, PAD_R = 54, PAD_T = 14, PAD_B = 30;

function Panel({ cfg }: { cfg: Cfg }) {
  const ref = useRef<HTMLCanvasElement>(null);
  const w = cfg.R - cfg.L + PAD_L + PAD_R;
  const h = cfg.B - cfg.T + PAD_T + PAD_B;
  useEffect(() => {
    if (!ref.current) return;
    const pts = (arr: number[]) => arr.map((v, i) => ({ x: cfg.xMin + (i * (cfg.xMax - cfg.xMin)) / (arr.length - 1), y: v }));
    const ds = (arr: number[], color: string, width: number, dash: number[] = []) => ({
      data: pts(arr), borderColor: color, borderWidth: width, borderDash: dash, pointRadius: 0, tension: 0, fill: false,
      borderCapStyle: "butt" as const, borderJoinStyle: "round" as const,
    });
    const s = cfg.s;
    const datasets = [
      ds(s.tot, "#000000", 2.6),
      ds(s.obs, "#000000", cfg.obsW, cfg.obsDash),
      ds(s.fac, C.fac, 1.4),
      ds(s.prc, C.prc, 1.5),
      ds(s.src, C.src, 1.7),
      ds(s.tail, C.tail, 1.6),
      ds(s.cf, C.cf, 1.7),
      ds(s.int, C.int, 1.7),
    ];
    const bg = {
      id: "bg_" + cfg.id,
      beforeDatasetsDraw(chart: any) {
        const ctx = chart.ctx as CanvasRenderingContext2D;
        const a = chart.chartArea;
        const xs = chart.scales.x, ys = chart.scales.y;
        const line = (x1: number, y1: number, x2: number, y2: number) => { ctx.beginPath(); ctx.moveTo(x1, y1); ctx.lineTo(x2, y2); ctx.stroke(); };
        ctx.save();
        ctx.lineWidth = 1;
        if (cfg.fine) { ctx.strokeStyle = "#ececec"; ctx.setLineDash([]); }
        else { ctx.strokeStyle = "#d4d4d4"; ctx.setLineDash([7, 5]); }
        const k0 = Math.ceil(cfg.yMin / cfg.gy - 1e-6), k1 = Math.floor(cfg.yMax / cfg.gy + 1e-6);
        for (let k = k0; k <= k1; k++) {
          const py = Math.round(ys.getPixelForValue(k * cfg.gy)) + 0.5;
          line(a.left, py, a.right, py);
        }
        const j0 = Math.ceil(cfg.xMin / cfg.gx - 1e-6), j1 = Math.floor(cfg.xMax / cfg.gx + 1e-6);
        for (let j = j0; j <= j1; j++) {
          const px = Math.round(xs.getPixelForValue(j * cfg.gx)) + 0.5;
          line(px, a.top, px, a.bottom);
        }
        ctx.setLineDash([]);
        ctx.strokeStyle = "#a8a8a8";
        for (let d = Math.ceil(cfg.xMin); d <= cfg.xMax; d++) {
          if (d - cfg.xMin < 0.03) continue;
          const px = Math.round(xs.getPixelForValue(d)) + 0.5;
          line(px, a.top, px, a.bottom);
        }
        ctx.strokeStyle = "#cfcfcf";
        line(a.left, a.bottom + 0.5, a.right, a.bottom + 0.5);
        ctx.lineWidth = 2;
        ctx.strokeStyle = cfg.leftAxis;
        line(a.left, a.top, a.left, a.bottom);
        if (cfg.top) { ctx.strokeStyle = cfg.top; line(a.left, a.top, a.right, a.top); }
        ctx.restore();
      },
    };
    const tickFont = { family: FONT, size: 17 };
    const chart = new Chart(ref.current, {
      type: "line",
      data: { datasets: datasets as any },
      options: {
        responsive: false,
        animation: false,
        devicePixelRatio: 1,
        events: [],
        layout: { padding: { left: cfg.ySide === "left" ? 0 : PAD_L, right: cfg.ySide === "right" ? 0 : PAD_R, top: PAD_T, bottom: 0 } },
        plugins: { legend: { display: false }, tooltip: { enabled: false } },
        scales: {
          x: {
            type: "linear", min: cfg.xMin, max: cfg.xMax,
            grid: { display: false, drawTicks: false }, border: { display: false },
            afterBuildTicks: (sc: any) => { sc.ticks = cfg.days.map((_, i) => ({ value: i + cfg.shift })); },
            afterFit: (sc: any) => { sc.height = PAD_B; },
            ticks: { autoSkip: false, maxRotation: 0, minRotation: 0, padding: 2, color: "#111", font: tickFont,
              callback: (_v: any, i: number) => cfg.days[i] },
          },
          y: {
            type: "linear", min: cfg.yMin, max: cfg.yMax, position: cfg.ySide === "right" ? "right" : "left",
            grid: { display: false, drawTicks: false }, border: { display: false },
            afterBuildTicks: (sc: any) => { sc.ticks = cfg.yTicks.map((v) => ({ value: v })); },
            afterFit: (sc: any) => { sc.width = cfg.ySide === "left" ? PAD_L : cfg.ySide === "right" ? PAD_R : 0; },
            ticks: { mirror: cfg.ySide === "inside", padding: cfg.ySide === "inside" ? 6 : 4, color: "#111", font: tickFont,
              callback: (v: any) => String(v) },
          },
        },
      } as any,
      plugins: [bg],
    });
    return () => chart.destroy();
  }, []);
  return (
    <canvas ref={ref} width={w} height={h}
      style={{ position: "absolute", left: cfg.L - PAD_L, top: cfg.T - PAD_T, width: w, height: h }} />
  );
}

const LEG_STYLE = [
  { c: C.int, d: "", w: 3 }, { c: C.cf, d: "", w: 3 }, { c: "#087008", d: "", w: 3 }, { c: C.src, d: "", w: 3 },
  { c: C.prc, d: "", w: 3 }, { c: "#d8a030", d: "", w: 3 }, { c: "#000", d: "4 3", w: 2.5 }, { c: "#000", d: "2.5 2.5", w: 2.5 },
  { c: "#000", d: "4 3", w: 2.5 }, { c: "#000", d: "4 3", w: 2.5 }, { c: "#000", d: "", w: 3 },
];

function Legend() {
  const top0 = 617;
  const rowY = [636, 657, 679, 700, 721, 743, 764, 786, 807, 828, 849];
  return (
    <div style={{ position: "absolute", left: 657, top: top0, width: 180, height: 253, boxSizing: "border-box", border: "2px solid #000", background: "#fff" }}>
      {LEGEND_LABELS.map((lab, i) => (
        <div key={lab} style={{ position: "absolute", left: 0, top: rowY[i] - top0 - 2 - 11, height: 22, width: 176 }}>
          <svg width={40} height={22} style={{ position: "absolute", left: 3, top: 0 }}>
            <line x1={0} y1={11} x2={38} y2={11} stroke={LEG_STYLE[i].c} strokeWidth={LEG_STYLE[i].w} strokeDasharray={LEG_STYLE[i].d || undefined} />
          </svg>
          <span style={{ position: "absolute", left: 46, top: 0, lineHeight: "22px", fontSize: 18, color: "#000", whiteSpace: "nowrap" }}>{lab}</span>
        </div>
      ))}
    </div>
  );
}

const TITLE_X = [238, 564, 981, 1325];
const TITLE_Y = [28, 26, 25, 25];
const ROW_Y = [133, 385, 645, 886];

export default function App() {
  return (
    <div style={{ position: "fixed", left: 0, top: 0, width: 1435, height: 1000, overflow: "hidden", background: "#fff", fontFamily: FONT, color: "#000" }}>
      {TITLES.map((t, i) => (
        <div key={t} style={{ position: "absolute", left: TITLE_X[i], top: TITLE_Y[i], transform: "translate(-50%, -50%)", fontSize: 27, whiteSpace: "nowrap" }}>{t}</div>
      ))}
      {ROW_LABELS.map((t, i) => (
        <div key={t} style={{ position: "absolute", left: 28, top: ROW_Y[i], transform: "translate(-50%, -50%) rotate(-90deg)", fontSize: 27, whiteSpace: "nowrap" }}>{t}</div>
      ))}
      {PANELS.map((p) => <Panel key={p.id} cfg={p} />)}
      <Legend />
    </div>
  );
}
